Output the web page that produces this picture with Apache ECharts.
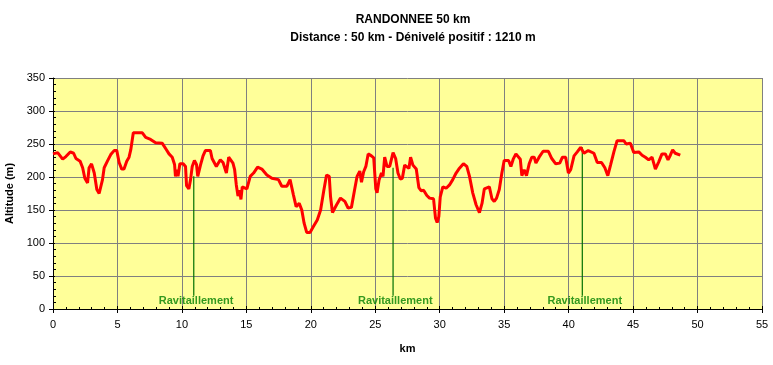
<!DOCTYPE html>
<html>
<head>
<meta charset="utf-8">
<script src="https://cdn.jsdelivr.net/npm/echarts@6/dist/echarts.min.js"></script>
<style>
html,body{margin:0;padding:0;background:#fff;}
#c{width:773px;height:365px;}
</style>
</head>
<body>
<div id="c"></div>
<script>
// Profile: distance (km) and altitude (m)
var profileKm = [0,0.1,0.36,0.75,1.0,1.34,1.6,1.78,2.1,2.3,2.47,2.68,2.8,2.99,3.2,3.4,3.58,3.71,3.84,3.97,4.22,4.48,4.74,4.95,5.13,5.33,5.51,5.72,5.9,6.03,6.23,6.93,7.19,7.57,7.96,8.48,8.81,9.0,9.25,9.43,9.5,9.63,9.7,9.84,10.1,10.28,10.36,10.54,10.67,10.8,10.97,11.13,11.23,11.44,11.64,11.82,12.21,12.34,12.67,12.98,13.19,13.45,13.63,13.96,14.09,14.22,14.35,14.48,14.58,14.68,15.04,15.3,15.56,15.87,16.2,16.59,16.98,17.49,17.75,18.14,18.39,18.65,18.86,19.1,19.3,19.48,19.68,19.94,20.2,20.5,20.76,21.02,21.22,21.43,21.53,21.68,22.0,22.3,22.64,22.89,23.15,23.4,23.59,23.8,23.93,24.1,24.27,24.45,24.7,24.88,25.04,25.14,25.3,25.48,25.6,25.73,25.91,26.12,26.38,26.58,26.76,26.94,27.1,27.28,27.61,27.74,27.92,28.18,28.38,28.57,28.75,29.0,29.21,29.52,29.67,29.8,29.93,30.04,30.24,30.5,30.76,31.01,31.27,31.48,31.84,32.1,32.31,32.56,32.82,33.08,33.28,33.46,33.59,33.85,34.05,34.23,34.41,34.62,34.82,35.0,35.34,35.52,35.7,35.91,36.25,36.37,36.55,36.73,36.94,37.14,37.33,37.46,37.71,38.02,38.43,38.69,39.0,39.31,39.52,39.77,39.98,40.16,40.42,40.67,40.93,41.19,41.52,41.96,42.22,42.55,42.81,43.04,43.25,43.51,43.76,44.28,44.46,44.79,45.05,45.44,45.7,45.95,46.21,46.47,46.73,46.99,47.24,47.5,47.71,47.89,48.07,48.27,48.66];
var profileAlt = [235,235,237,227,231,238,236,228,224,214,198,191,214,220,206,181,175,175,196,214,224,234,240,240,222,212,212,224,230,241,267,267,260,257,252,251,241,235,230,219,201,211,201,220,220,216,187,182,196,216,225,219,201,218,232,240,240,228,216,226,222,206,230,221,211,188,171,180,166,185,182,201,206,215,212,203,198,196,186,186,196,173,155,160,150,130,116,116,125,135,150,181,203,201,170,146,158,168,163,153,154,181,201,209,192,208,216,235,232,229,182,176,196,206,201,230,216,216,237,228,206,197,198,218,213,230,218,212,184,179,180,172,168,167,138,131,140,170,185,183,188,196,206,212,220,216,201,176,158,146,160,182,185,185,167,163,168,181,206,225,225,216,227,235,227,202,211,202,220,230,230,221,230,239,239,228,220,221,230,230,206,211,232,238,245,236,240,236,222,222,214,202,218,238,255,255,250,251,237,238,233,230,226,230,212,223,235,235,226,233,241,236,233];

// Supply points (Ravitaillement)
var ravitKm = [10.92, 26.38, 41.06];
var ravitTop = [201, 214, 245];
var ravitBottom = [20, 20, 20];
var ravitLabel = ['Ravitaillement', 'Ravitaillement', 'Ravitaillement'];
var ravitLabelKm = [11.1, 26.55, 41.25];
var ravitLabelAlt = [12, 12, 12];

var titleText = 'RANDONNEE 50 km';
var subtitleText = 'Distance : 50 km - Dénivelé positif : 1210 m';
var xName = 'km';
var yName = 'Altitude (m)';

var FONT = 'Liberation Sans, Arial, sans-serif';

var profileData = profileKm.map(function (k, i) { return [k, profileAlt[i]]; });

var series = [{
  type: 'line',
  data: profileData,
  showSymbol: false,
  symbol: 'none',
  lineStyle: { color: '#FF0000', width: 3 },
  z: 5,
  animation: false
}];
ravitKm.forEach(function (k, i) {
  series.push({
    type: 'line',
    data: [[k, ravitBottom[i]], [k, ravitTop[i]]],
    symbol: 'none',
    lineStyle: { color: '#007000', width: 1.2 },
    z: 4,
    animation: false
  });
});
series.push({
  type: 'scatter',
  data: ravitLabelKm.map(function (k, i) { return { value: [k, ravitLabelAlt[i]], name: ravitLabel[i] }; }),
  symbol: 'rect',
  symbolSize: 1,
  itemStyle: { color: 'rgba(0,0,0,0)' },
  label: {
    show: true,
    position: 'inside',
    formatter: function (p) { return p.name; },
    color: '#008000',
    fontWeight: 'bold',
    fontSize: 11,
    fontFamily: FONT
  },
  silent: true,
  z: 6,
  animation: false
});

var chart = echarts.init(document.getElementById('c'), null, { renderer: 'canvas' });
chart.setOption({
  backgroundColor: '#FFFFFF',
  animation: false,
  title: [{
    text: titleText,
    left: 408, top: 9, textAlign: 'center',
    textStyle: { fontFamily: FONT, fontSize: 12, fontWeight: 'bold', color: '#000' }
  }, {
    text: subtitleText,
    left: 408, top: 27, textAlign: 'center',
    textStyle: { fontFamily: FONT, fontSize: 12, fontWeight: 'bold', color: '#000' }
  }],
  grid: {
    left: 53, right: 11, top: 78, bottom: 56,
    show: true, backgroundColor: '#FFFF99', borderWidth: 0,
    containLabel: false,
    outerBoundsMode: 'none'
  },
  xAxis: [{
    type: 'value', min: 0, max: 55, interval: 5,
    name: xName, nameLocation: 'middle', nameGap: 34,
    nameTextStyle: { fontFamily: FONT, fontSize: 11, fontWeight: 'bold', color: '#000' },
    axisLine: { show: true, onZero: false, lineStyle: { color: '#000', width: 1 } },
    axisTick: { show: true, inside: false, length: 4, lineStyle: { color: '#000' } },
    axisLabel: { fontFamily: FONT, fontSize: 11, color: '#000', margin: 10 },
    splitLine: { show: true, lineStyle: { color: '#808080', width: 1 } }
  }, {
    type: 'value', min: 0, max: 55, interval: 5, position: 'bottom',
    axisLine: { show: false },
    axisTick: { show: true, inside: true, length: 3, lineStyle: { color: '#000' } },
    minorTick: { show: true, splitNumber: 5, length: 2, lineStyle: { color: '#000' } },
    axisLabel: { show: false },
    splitLine: { show: false }
  }],
  yAxis: [{
    type: 'value', min: 0, max: 350, interval: 50,
    name: yName, nameLocation: 'middle', nameGap: 38,
    nameTextStyle: { fontFamily: FONT, fontSize: 11, fontWeight: 'bold', color: '#000' },
    axisLine: { show: true, onZero: false, lineStyle: { color: '#000', width: 1 } },
    axisTick: { show: true, inside: false, length: 4, lineStyle: { color: '#000' } },
    axisLabel: { fontFamily: FONT, fontSize: 11, color: '#000', margin: 8 },
    splitLine: { show: true, lineStyle: { color: '#808080', width: 1 } }
  }, {
    type: 'value', min: 0, max: 350, interval: 50, position: 'left',
    axisLine: { show: false },
    axisTick: { show: true, inside: true, length: 2, lineStyle: { color: '#000' } },
    minorTick: { show: true, splitNumber: 5, length: 3, lineStyle: { color: '#000' } },
    axisLabel: { show: false },
    splitLine: { show: false }
  }],
  series: series
});
</script>
</body>
</html>
